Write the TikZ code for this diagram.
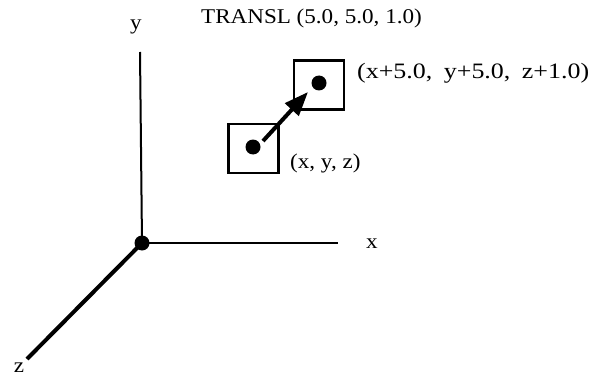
\documentclass[tikz,border=0pt]{standalone}
\usepackage{fontspec}
\setmainfont{Liberation Serif}
\newfontfamily\wideserif[FakeStretch=1.1]{Liberation Serif}
\newfontfamily\widerserif[FakeStretch=1.18]{Liberation Serif}
\usetikzlibrary{arrows.meta}
\begin{document}
\begin{tikzpicture}[x=1pt,y=-1pt,
  lbl/.style={font=\wideserif\fontsize{21}{24}\selectfont, inner sep=0pt},
  bx/.style={draw, line width=2.6pt, minimum width=50pt, minimum height=49pt, inner sep=0pt},
  blob/.style={circle, fill=black, inner sep=0pt, minimum size=15pt}]
\useasboundingbox (0,0) rectangle (596,377);
\node[blob] (o) at (142,243) {};
\coordinate (ytop) at (140,52);
\coordinate (xend) at (338,243);
\coordinate (zend) at (27,359);
\draw[line width=2pt] (o.center) -- (ytop);
\draw[line width=2pt] (o.center) -- (xend);
\draw[line width=4pt] (o.center) -- (zend);
\node[lbl] (ylab) at (136,27) {y};
\node[lbl] (xlab) at (372,244) {x};
\node[lbl] (zlab) at (19,368) {z};
\node[lbl] (title) at (311.5,18) {TRANSL (5.0, 5.0, 1.0)};
\node[bx] (b1) at (253.5,148.5) {};
\node[bx] (b2) at (319,85) {};
\node[blob] (d1) at (253,147) {};
\node[blob] (d2) at (319,83) {};
\coordinate (as) at (263,141);
\coordinate (ae) at (308,92);
\draw[line width=4pt, -{Triangle[length=24pt,width=18pt]}] (as) -- (ae);
\node[lbl, anchor=west, font=\widerserif\fontsize{22}{26}\selectfont] (l2) at (357,73) {(x+5.0,\hspace{5pt} y+5.0,\hspace{5pt} z+1.0)};
\node[lbl, anchor=west] (l1) at (290,163) {(x, y, z)};
\end{tikzpicture}
\end{document}
